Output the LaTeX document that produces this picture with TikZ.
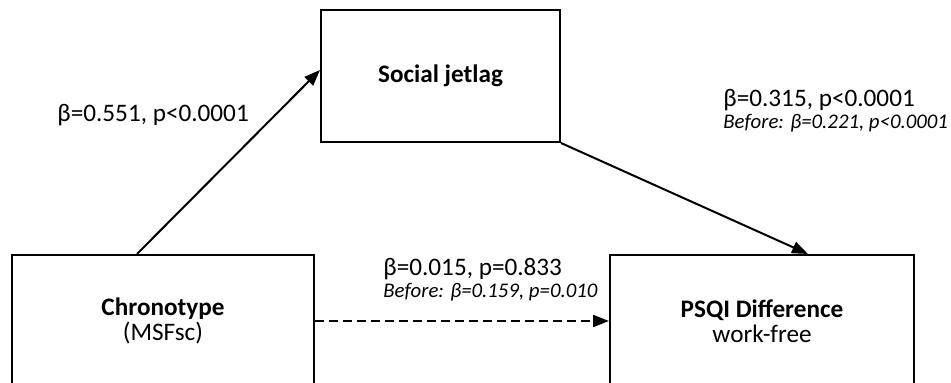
\documentclass[tikz,border=0pt]{standalone}
\usepackage{fontspec}
\setmainfont{Carlito}
\usepackage{tikz}
\usetikzlibrary{arrows.meta,calc,positioning}
\tikzset{box style/.style={draw, line width=1pt, rectangle, align=center, font=\fontsize{12.6}{12.6}\selectfont},
         coef style/.style={anchor=base west, inner sep=0pt, font=\fontsize{12.6}{12.6}\selectfont},
         before style/.style={anchor=base west, inner sep=0pt, font=\fontsize{10.4}{10.4}\selectfont\itshape},
         path style/.style={line width=1pt, -{Triangle[length=8pt,width=6pt]}}}

\begin{document}
\begin{tikzpicture}[x=0.5pt, y=-0.5pt]
	
	\useasboundingbox (0,0) rectangle (951,383);
	\clip (0,0) rectangle (951,383);
	
	\node[box style, minimum width=119.5pt, minimum height=66pt] (jetlag) at (440.5,76) {\textbf{Social jetlag}};
	\node[box style, minimum width=151pt, minimum height=66pt] (chrono) at (163,321) {\textbf{Chronotype}\\(MSFsc)};
	\node[box style, minimum width=152pt, minimum height=66pt] (psqi) at (762,321) {\textbf{PSQI Difference}\\work-free};
	
	\node[coef style] (a) at (57,122) {β=0.551, p<0.0001};
	
	\node[coef style] (b) at (723,107) {β=0.315, p<0.0001};
	\node[before style] (b') at (723,129) {Before: β=0.221, p<0.0001};
	
	\node[coef style] (c) at (383,276) {β=0.015, p=0.833};
	\node[before style] (c') at (383,298) {Before: β=0.159, p=0.010};
	
	\draw[path style] ([xshift=-13pt]chrono.north) -- ([yshift=3pt]jetlag.west);
	\draw[path style] (jetlag.south east) -- ([xshift=23pt]psqi.north);
	\draw[path style, dash pattern=on 4.5pt off 2.5pt] (chrono.east) -- (psqi.west);
\end{tikzpicture}
\end{document}
